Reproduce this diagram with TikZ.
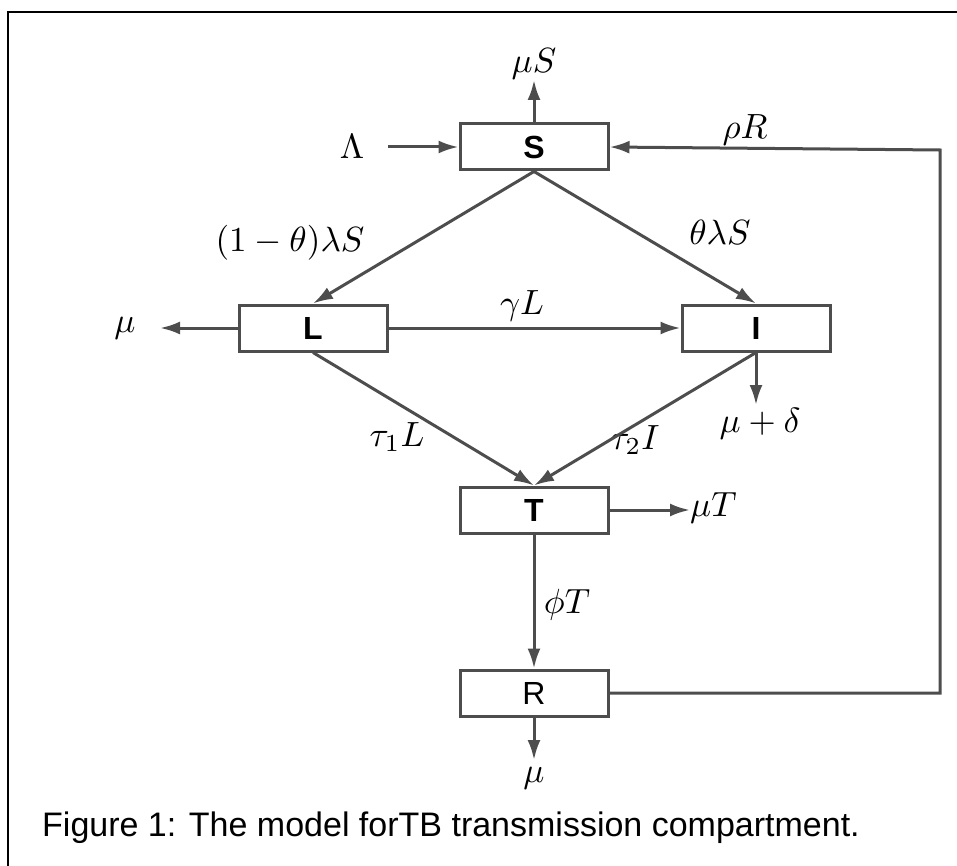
\documentclass[tikz,border=0pt]{standalone}
\usepackage{graphicx}
\usepackage{fontspec}
\setsansfont{Liberation Sans}
\usetikzlibrary{arrows.meta}
\definecolor{ln}{HTML}{4D4D4D}
\newcommand{\mylabmath}[1]{\scalebox{3.5}{$#1$}}
\newcommand{\myboxfont}{\fontsize{32}{34}\selectfont\sffamily}
\tikzset{
  box/.style={draw=ln, line width=3pt, minimum width=148pt, minimum height=46pt, inner sep=0pt},
  arr/.style={draw=ln, line width=3pt, -{Latex[length=20pt,width=13pt]}},
  lab/.style={inner sep=0pt}
}
\begin{document}
\begin{tikzpicture}[x=1pt,y=-1pt]
\useasboundingbox (0,0) rectangle (957,866);
\draw[black, line width=2pt] (8,866) -- (8,12) -- (957,12);
% boxes
\node[box] (S) at (534,147) {\myboxfont\bfseries S};
\node[box] (L) at (313,328) {\myboxfont\bfseries L};
\node[box] (I) at (756,328) {\myboxfont\bfseries I};
\node[box] (T) at (534,510) {\myboxfont\bfseries T};
\node[box] (R) at (534,693) {\myboxfont R};
% free ends
\coordinate (muSend) at (534,80);
\coordinate (lamstart) at (388,147);
\coordinate (Lmuend) at (160,328);
\coordinate (Imuend) at (756,405);
\coordinate (Tmuend) at (690,510);
\coordinate (Rmuend) at (534,760);
\coordinate (c1) at (940,693);
\coordinate (c2) at (940,150);
% labels
\node[lab] (lmuS) at (534,64) {\mylabmath{\mu S}};
\node[lab] (llam) at (352,147) {\mylabmath{\Lambda}};
\node[lab] (lrho) at (745,130) {\mylabmath{\rho R}};
\node[lab] (l1) at (290,243) {\mylabmath{(1-\theta)\lambda S}};
\node[lab] (l2) at (720,232) {\mylabmath{\theta\lambda S}};
\node[lab] (lmuL) at (125,328) {\mylabmath{\mu}};
\node[lab] (lgam) at (522,306) {\mylabmath{\gamma L}};
\node[lab] (lmud) at (760,424) {\mylabmath{\mu+\delta}};
\node[lab] (ltau1) at (397,437) {\mylabmath{\tau_1 L}};
\node[lab] (ltau2) at (635,440) {\mylabmath{\tau_2 I}};
\node[lab, anchor=west] (lmuT) at (690,508) {\mylabmath{\mu T}};
\node[lab] (lphi) at (567,605) {\mylabmath{\phi T}};
\node[lab] (lmuR) at (534,778) {\mylabmath{\mu}};
% connectors
\draw[arr] (S.north) -- (muSend);
\draw[arr] (lamstart) -- (S.west);
\draw[arr] (R.east) -- (c1) -- (c2) -- (S.east);
\draw[arr] (S.south) -- (L.north);
\draw[arr] (S.south) -- (I.north);
\draw[arr] (L.west) -- (Lmuend);
\draw[arr] (L.east) -- (I.west);
\draw[arr] (I.south) -- (Imuend);
\draw[arr] (L.south) -- (T.north);
\draw[arr] (I.south) -- (T.north);
\draw[arr] (T.east) -- (Tmuend);
\draw[arr] (T.south) -- (R.north);
\draw[arr] (R.south) -- (Rmuend);
% caption
\node[anchor=west, inner sep=0pt, font=\fontsize{34}{36}\selectfont\sffamily] (cap) at (42,828) {Figure 1: The model forTB transmission compartment.};
\end{tikzpicture}
\end{document}
